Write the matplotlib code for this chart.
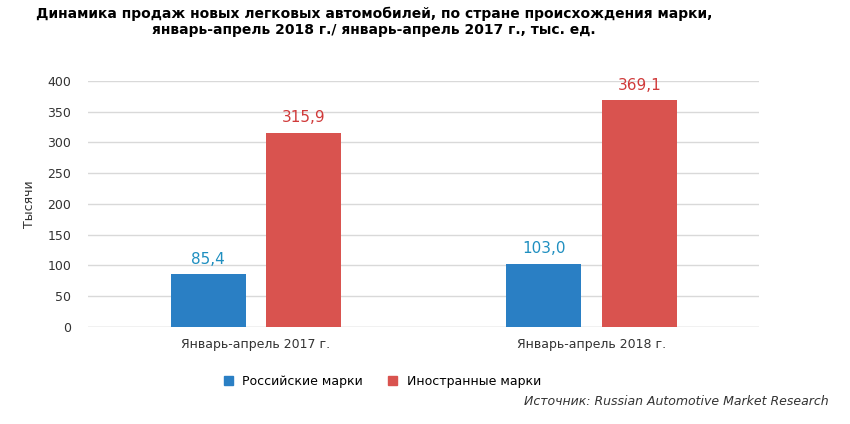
import matplotlib.pyplot as plt
import matplotlib.patches as mpatches
import numpy as np

categories = ["Январь-апрель 2017 г.", "Январь-апрель 2018 г."]
russian = [85.4, 103.0]
foreign = [315.9, 369.1]
russian_labels = ["85,4", "103,0"]
foreign_labels = ["315,9", "369,1"]

blue = "#2a7fc4"
red = "#d9534f"

fig = plt.figure(figsize=(8.5, 4.24), dpi=100)
ax = fig.add_axes([0.1035, 0.229, 0.79, 0.58])

x = np.arange(len(categories))
w = 0.223
ax.bar(x - 0.142, russian, w, color=blue, zorder=3)
ax.bar(x + 0.142, foreign, w, color=red, zorder=3)

for i in range(len(categories)):
    ax.text(x[i] - 0.142, russian[i] + 12, russian_labels[i], ha="center", va="bottom",
            color="#1f8fc0", fontsize=11)
    ax.text(x[i] + 0.142, foreign[i] + 12, foreign_labels[i], ha="center", va="bottom",
            color="#d03a3a", fontsize=11)

ax.set_xlim(-0.5, 1.5)
ax.set_ylim(0, 400)
ax.set_yticks(range(0, 401, 50))
ax.set_xticks(x)
ax.set_xticklabels(categories, fontsize=9, color="#333333")
ax.tick_params(axis="y", labelsize=9, colors="#333333", length=0, pad=12)
ax.tick_params(axis="x", length=0, pad=8)
ax.grid(axis="y", color="#d9d9d9", linewidth=1, zorder=0)
ax.axhline(0, color="#d9d9d9", linewidth=1, zorder=1)
for s in ax.spines.values():
    s.set_visible(False)
ax.set_ylabel("Тысячи", fontsize=9, color="#333333", labelpad=8)

fig.suptitle("Динамика продаж новых легковых автомобилей, по стране происхождения марки,\n"
             "январь-апрель 2018 г./ январь-апрель 2017 г., тыс. ед.",
             fontsize=10, fontweight="bold", y=0.985, x=0.44)

handles = [mpatches.Patch(color=blue, label="Российские марки"),
           mpatches.Patch(color=red, label="Иностранные марки")]
fig.legend(handles=handles, loc="center", bbox_to_anchor=(0.45, 0.1), ncol=2, frameon=False,
           fontsize=9, handlelength=0.7, handleheight=0.7, columnspacing=2)

fig.text(0.975, 0.045, "Источник: Russian Automotive Market Research", ha="right",
         fontsize=9, style="italic", color="#333333")

fig.savefig("out.png", dpi=100)
